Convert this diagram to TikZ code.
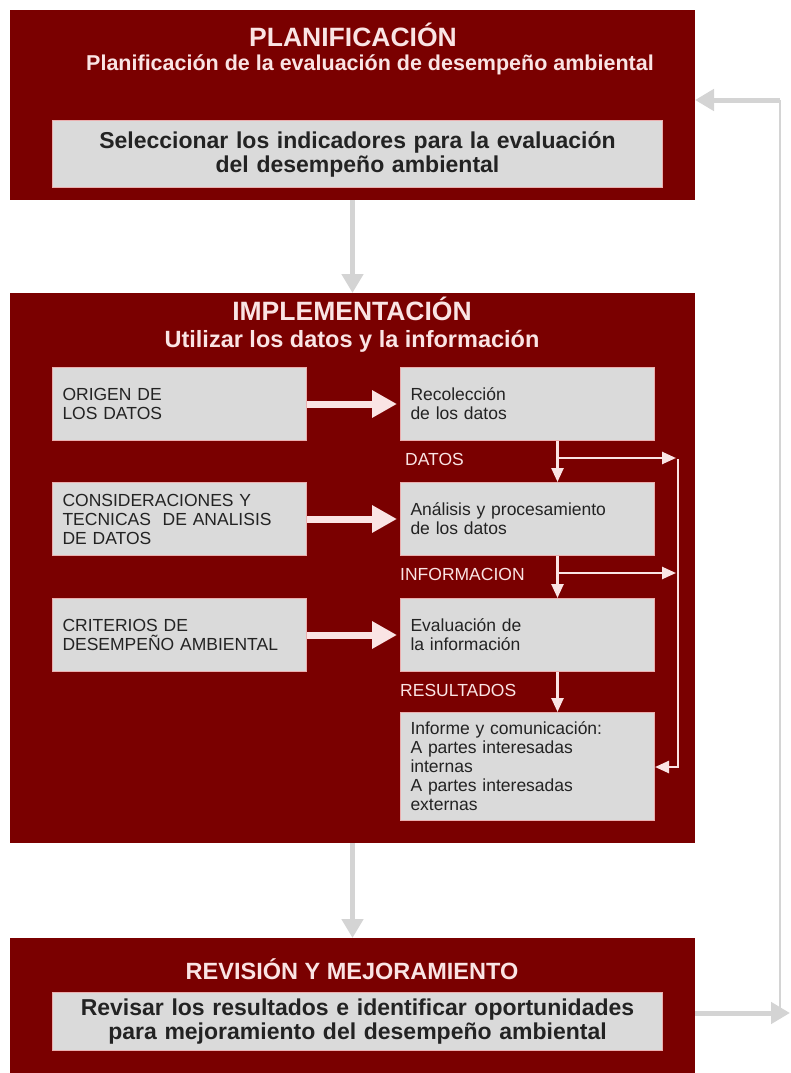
\documentclass[tikz,border=0pt]{standalone}
\usepackage{fontspec}
\setmainfont{Liberation Sans}
\usetikzlibrary{arrows.meta}

\definecolor{vino}{RGB}{122,0,0}
\definecolor{gris}{RGB}{218,218,218}
\definecolor{grisflecha}{RGB}{212,212,212}
\definecolor{rosado}{RGB}{250,228,228}
\definecolor{borde}{RGB}{235,175,175}
\definecolor{texto}{RGB}{35,35,35}

\tikzset{
  panel/.style={fill=vino,inner sep=0pt,outer sep=0pt,anchor=north west,minimum width=685pt},
  caja/.style={fill=gris,draw=borde,line width=1pt,anchor=north west,inner xsep=10pt,inner ysep=0pt,
    text width=234pt,minimum height=73pt,align=left,text=texto,font=\fontsize{17.5}{19}\selectfont},
  cajagrande/.style={fill=gris,draw=borde,line width=1pt,anchor=north west,inner sep=0pt,
    text width=610pt,align=center,text=texto,font=\bfseries\fontsize{23}{24}\selectfont},
  titulo/.style={text=rosado,font=\bfseries\fontsize{26.5}{28}\selectfont,inner sep=0pt},
  subtitulo/.style={text=rosado,font=\bfseries\fontsize{21.5}{23}\selectfont,inner sep=0pt},
  etiqueta/.style={text=rosado,anchor=west,inner sep=0pt,font=\fontsize{17.5}{19}\selectfont},
  flechagris/.style={draw=grisflecha,line width=5pt,-{Triangle[width=21pt,length=19pt]}},
  lineagris/.style={draw=grisflecha,line width=2pt},
  flechagorda/.style={draw=rosado,line width=7pt,-{Triangle[width=26pt,length=25pt]},shorten >=3pt},
  flechab/.style={draw=rosado,line width=2.5pt,-{Triangle[width=12pt,length=14pt]}}
}

\begin{document}
\begin{tikzpicture}[x=1pt,y=-1pt]
\useasboundingbox (0,0) rectangle (791,1073);

% planificacion
\node[panel,minimum height=190pt] (plan) at (10,10) {};
\node[titulo] (tplan) at (353,35) {PLANIFICACIÓN};
\node[subtitulo] (splan) at (370,65) {Planificación de la evaluación de desempeño ambiental};
\node[cajagrande,minimum height=67pt] (sel) at (52,120)
  {Seleccionar los indicadores para la evaluación\\del desempeño ambiental};

% implementacion
\node[panel,minimum height=550pt] (impl) at (10,293) {};
\node[titulo] (timpl) at (352,309) {IMPLEMENTACIÓN};
\node[subtitulo,font=\bfseries\fontsize{23.5}{25}\selectfont] (simpl) at (352,341) {Utilizar los datos y la información};

\node[caja] (izq1) at (52,367) {ORIGEN DE\\LOS DATOS\\[4pt]};
\node[caja] (izq2) at (52,482) {CONSIDERACIONES Y\\TECNICAS\ \ DE ANALISIS\\DE DATOS\\[6pt]};
\node[caja] (izq3) at (52,598) {CRITERIOS DE\\DESEMPEÑO AMBIENTAL\\[4pt]};

\node[caja] (der1) at (400,367) {Recolección\\de los datos\\[4pt]};
\node[caja] (der2) at (400,482) {Análisis y procesamiento\\de los datos\\[4pt]};
\node[caja] (der3) at (400,598) {Evaluación de\\la información\\[4pt]};
\node[caja,minimum height=108pt] (der4) at (400,712)
  {Informe y comunicación:\\A partes interesadas\\internas\\A partes interesadas\\externas};

\node[etiqueta] (ldatos) at (405,459) {DATOS};
\node[etiqueta] (linfo) at (400,574) {INFORMACION};
\node[etiqueta] (lres) at (400,690) {RESULTADOS};

\foreach \i in {1,2,3}
  \draw[flechagorda] (izq\i.east) -- (der\i.west);

\draw[flechab] ([xshift=30pt]der1.south) -- ([xshift=30pt]der2.north);
\draw[flechab] ([xshift=30pt]der2.south) -- ([xshift=30pt]der3.north);
\draw[flechab] ([xshift=30pt]der3.south) -- ([xshift=30pt]der4.north);

\coordinate (d1) at (557,458);
\coordinate (d2) at (557,573);
\coordinate (r1) at (678,458);
\coordinate (r2) at (678,573);
\coordinate (r3) at (678,767);
\draw[flechab] (d1) -- ([xshift=-2pt]r1);
\draw[flechab] (d2) -- ([xshift=-2pt]r2);
\draw[flechab] ([yshift=-1pt]r1) -- (r3) -- (der4.east |- r3);

% revision
\node[panel,minimum height=135pt] (rev) at (10,938) {};
\node[titulo,font=\bfseries\fontsize{23.5}{25}\selectfont] (trev) at (352,969) {REVISIÓN Y MEJORAMIENTO};
\node[cajagrande,minimum height=58pt] (revisar) at (52,992)
  {Revisar los resultados e identificar oportunidades\\para mejoramiento del desempeño ambiental};

% conectores grises
\draw[flechagris] (plan.south) -- (impl.north);
\draw[flechagris] (impl.south) -- (rev.north);
\coordinate (v1) at (780,1008);
\coordinate (v2) at (780,100);
\draw[flechagris] (rev.east |- 0,1013) -- (790,1013);
\draw[lineagris] (v1) -- (v2);
\draw[flechagris] (v2) -- (plan.east |- v2);
\end{tikzpicture}
\end{document}
